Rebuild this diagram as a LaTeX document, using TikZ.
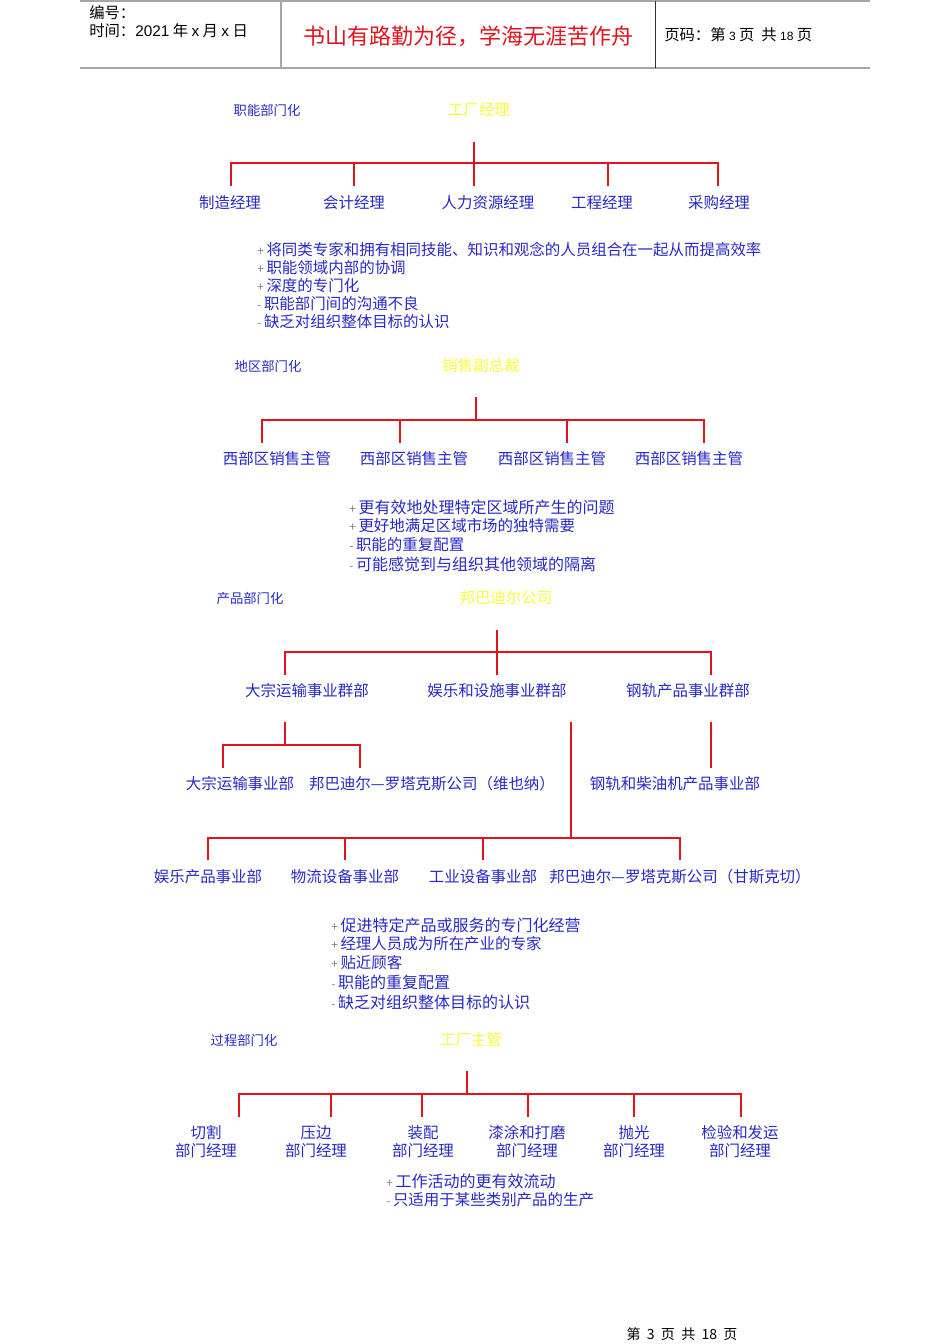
\documentclass[tikz,border=0pt]{standalone}
\usepackage{fontspec}
\setmainfont{Noto Sans CJK SC}
\newfontfamily\lat{Liberation Sans}
\definecolor{tblue}{RGB}{40,40,200}
\definecolor{tyel}{RGB}{250,250,60}
\definecolor{tred}{RGB}{225,20,30}
\newcommand{\pl}{{\color{gray}\small +}\,}
\newcommand{\mi}{{\color{gray}\small -}\,}
\begin{document}
\begin{tikzpicture}[x=0.75pt,y=-0.75pt,
  lbl/.style={text=tblue,font=\fontsize{11.6}{12.5}\selectfont,inner sep=0pt},
  sec/.style={text=tblue,font=\fontsize{10}{11}\selectfont,inner sep=0pt},
  head/.style={text=tyel,font=\fontsize{11.6}{12}\selectfont,inner sep=0pt},
  bul/.style={text=tblue,font=\fontsize{11.6}{12}\selectfont,inner sep=0pt,anchor=west},
  bulb/.style={text=tblue,font=\fontsize{12}{12}\selectfont,inner sep=0pt,anchor=west},
  wire/.style={draw=tred,line width=1.3pt}]
\useasboundingbox (0,0) rectangle (950,1344);
% header
\draw[gray!70,line width=0.8pt] (80,1) -- (870,1);
\draw[gray!70,line width=1.2pt] (80,68) -- (870,68);
\draw[gray!70,line width=0.8pt] (281,1) -- (281,68);
\draw[black!80,line width=0.6pt] (655,1) -- (655,68);
\node[anchor=west,inner sep=0pt,font=\fontsize{11.5}{12}\selectfont] (h1) at (89,13) {编号：};
\node[anchor=west,inner sep=0pt,font=\fontsize{11.5}{12}\selectfont] (h2) at (89,31) {时间：{\lat 2021} 年 {\lat x} 月 {\lat x} 日};
\node[inner sep=0pt,text=tred,font=\fontsize{16.5}{18}\selectfont] (h3) at (468,36) {书山有路勤为径，学海无涯苦作舟};
\node[anchor=west,inner sep=0pt,font=\fontsize{11.5}{12}\selectfont] (h4) at (664,35) {页码：第 {\lat\small 3} 页\ \ 共 {\lat\small 18} 页};
% section 1
\node[sec] (s1) at (267,110) {职能部门化};
\node[head] (r1) at (479,110) {工厂经理};
\draw[wire] (474,142) -- (474,163);
\draw[wire] (231,186) -- (231,163) -- (718,163) -- (718,186);
\foreach \x in {354,474,608} \draw[wire] (\x,163) -- (\x,186);
\node[lbl] (a1) at (230,203) {制造经理};
\node[lbl] (a2) at (354,203) {会计经理};
\node[lbl] (a3) at (488,203) {人力资源经理};
\node[lbl] (a4) at (602,203) {工程经理};
\node[lbl] (a5) at (719,203) {采购经理};
\node[bul] (b11) at (257,250) {\pl 将同类专家和拥有相同技能、知识和观念的人员组合在一起从而提高效率};
\node[bul] (b12) at (257,268) {\pl 职能领域内部的协调};
\node[bul] (b13) at (257,286) {\pl 深度的专门化};
\node[bul] (b14) at (257,304) {\mi 职能部门间的沟通不良};
\node[bul] (b15) at (257,322) {\mi 缺乏对组织整体目标的认识};
% section 2
\node[sec] (s2) at (268,366) {地区部门化};
\node[head] (r2) at (481,366) {销售副总裁};
\draw[wire] (476,397) -- (476,420);
\draw[wire] (262,443) -- (262,420) -- (704,420) -- (704,443);
\foreach \x in {400,567} \draw[wire] (\x,420) -- (\x,443);
\node[lbl] (c1) at (277,459) {西部区销售主管};
\node[lbl] (c2) at (414,459) {西部区销售主管};
\node[lbl] (c3) at (552,459) {西部区销售主管};
\node[lbl] (c4) at (689,459) {西部区销售主管};
\node[bulb] (b21) at (349,507) {\pl 更有效地处理特定区域所产生的问题};
\node[bul] (b22) at (349,526) {\pl 更好地满足区域市场的独特需要};
\node[bul] (b23) at (349,545) {\mi 职能的重复配置};
\node[bulb] (b24) at (349,564) {\mi 可能感觉到与组织其他领域的隔离};
% section 3
\node[sec] (s3) at (250,598) {产品部门化};
\node[head] (r3) at (506,598) {邦巴迪尔公司};
\draw[wire] (497,630) -- (497,675);
\draw[wire] (285,675) -- (285,652) -- (711,652) -- (711,675);
\node[lbl] (d1) at (307,691) {大宗运输事业群部};
\node[lbl] (d2) at (497,691) {娱乐和设施事业群部};
\node[lbl] (d3) at (688,691) {钢轨产品事业群部};
\draw[wire] (285,722) -- (285,745);
\draw[wire] (223,768) -- (223,745) -- (360,745) -- (360,768);
\node[lbl] (e1) at (240,784) {大宗运输事业部};
\node[lbl] (e2) at (432,784) {邦巴迪尔—罗塔克斯公司（维也纳）};
\draw[wire] (711,722) -- (711,768);
\node[lbl] (e3) at (675,784) {钢轨和柴油机产品事业部};
\draw[wire] (571,722) -- (571,838);
\draw[wire] (208,860) -- (208,838) -- (680,838) -- (680,860);
\foreach \x in {345,483} \draw[wire] (\x,838) -- (\x,860);
\node[lbl] (f1) at (208,877) {娱乐产品事业部};
\node[lbl] (f2) at (345,877) {物流设备事业部};
\node[lbl] (f3) at (483,877) {工业设备事业部};
\node[lbl] (f4) at (680,877) {邦巴迪尔—罗塔克斯公司（甘斯克切）};
\node[bulb] (b31) at (331,925) {\pl 促进特定产品或服务的专门化经营};
\node[bul] (b32) at (331,944) {\pl 经理人员成为所在产业的专家};
\node[bul] (b33) at (331,963) {\pl 贴近顾客};
\node[bulb] (b34) at (331,982) {\mi 职能的重复配置};
\node[bulb] (b35) at (331,1002) {\mi 缺乏对组织整体目标的认识};
% section 4
\node[sec] (s4) at (244,1040) {过程部门化};
\node[head] (r4) at (471,1040) {工厂主管};
\draw[wire] (467,1071) -- (467,1094);
\draw[wire] (239,1117) -- (239,1094) -- (741,1094) -- (741,1117);
\foreach \x in {331,422,528,634} \draw[wire] (\x,1094) -- (\x,1117);
\foreach \x/\t [count=\i] in {206/切割,316/压边,423/装配,527/漆涂和打磨,634/抛光,740/检验和发运}{
  \node[lbl] (g\i) at (\x,1133) {\t};
  \node[lbl] (k\i) at (\x,1151) {部门经理};
}
\node[bulb] (b41) at (386,1181) {\pl 工作活动的更有效流动};
\node[bul] (b42) at (386,1200) {\mi 只适用于某些类别产品的生产};
% footer
\node[inner sep=0pt,font=\fontsize{10.5}{11}\selectfont] (ft) at (682,1334) {第\ \ 3\ \ 页\ \ 共\ \ 18\ \ 页};
\end{tikzpicture}
\end{document}
